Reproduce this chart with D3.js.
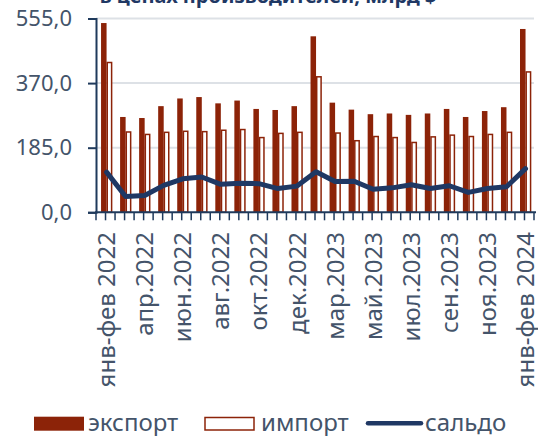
<!DOCTYPE html>
<html><head><meta charset="utf-8">
<script src="https://cdn.jsdelivr.net/npm/d3@7"></script>
<style>html,body{margin:0;padding:0;background:#fff;}svg{display:block;font-family:"Noto Sans",sans-serif;}</style>
</head><body>
<svg id="c" width="538" height="436"></svg>
<script>
const categories = ["янв-фев 2022","мар.2022","апр.2022","май.2022","июн.2022","июл.2022","авг.2022","сен.2022","окт.2022","ноя.2022","дек.2022",
  "янв-фев 2023","мар.2023","апр.2023","май.2023","июн.2023","июл.2023","авг.2023","сен.2023","окт.2023","ноя.2023","дек.2023","янв-фев 2024"];
const exportVals = [542,273,270,304,326,330,312,320,296,293,304,504,314,294,281,283,279,283,296,273,290,301,525];
const importVals = [429,230,223,229,232,231,235,237,214,226,229,388,227,205,217,214,200,216,221,217,223,229,402];
const saldoVals  = [115,45,48,77,96,101,80,83,82,68,75,116,88,89,66,70,79,68,76,57,68,73,125];
const yTicks = [0,185,370,555];
const labelIdx = [0,2,4,6,8,10,12,14,16,18,20,22];
const legendItems = ["экспорт","импорт","сальдо"];
const titleText = "в ценах производителей, млрд $";

const RED = "#8c2308", NAVY = "#1f3864", AXIS = "#1f3a5c", TXT = "#44546a", GRID = "#dde1e6";
const svg = d3.select("#c");
const x = d3.scaleBand().domain(categories).range([96, 534]).padding(0);
const y = d3.scaleLinear().domain([0,555]).range([212.3, 18.5]);
const bw = x.bandwidth();

svg.append("text").attr("x",268).attr("y",2.5).attr("text-anchor","middle")
  .attr("font-weight","bold").attr("font-size",20).attr("fill",NAVY).text(titleText);

// gridlines
svg.append("g").selectAll("line").data(yTicks.filter(d=>d>0)).join("line")
  .attr("x1",96).attr("x2",534).attr("y1",d=>y(d)).attr("y2",d=>y(d))
  .attr("stroke",GRID).attr("stroke-width",2);

// bars
svg.append("g").selectAll("rect").data(categories).join("rect")
  .attr("x",d=>x(d)+bw*0.265).attr("width",bw*0.29)
  .attr("y",(d,i)=>y(exportVals[i])).attr("height",(d,i)=>y(0)-y(exportVals[i]))
  .attr("fill",RED);
svg.append("g").selectAll("rect").data(categories).join("rect")
  .attr("x",d=>x(d)+bw*0.59).attr("width",bw*0.23)
  .attr("y",(d,i)=>y(importVals[i])).attr("height",(d,i)=>y(0)-y(importVals[i]))
  .attr("fill","#fff").attr("stroke",RED).attr("stroke-width",1.5);

// y axis
const yAxis = d3.axisLeft(y).tickValues(yTicks).tickSize(8).tickPadding(16)
  .tickFormat(d=>d3.format(".1f")(d).replace(".",","));
const gy = svg.append("g").attr("transform","translate(96,0)").call(yAxis);
gy.select(".domain").attr("stroke",AXIS).attr("stroke-width",2);
gy.selectAll(".tick line").attr("stroke",AXIS).attr("stroke-width",2);
gy.selectAll(".tick text").attr("fill",TXT).attr("font-size",22).attr("font-family","Noto Sans");

// x axis line and ticks
svg.append("line").attr("x1",95).attr("x2",536).attr("y1",y(0)).attr("y2",y(0))
  .attr("stroke",AXIS).attr("stroke-width",2);
const tickPos = [];
categories.forEach(c=>{tickPos.push(x(c)); tickPos.push(x(c)+bw/2);});
tickPos.push(x.range()[1]);
svg.append("g").selectAll("line").data(tickPos).join("line")
  .attr("x1",d=>d).attr("x2",d=>d).attr("y1",y(0)).attr("y2",y(0)+8)
  .attr("stroke",AXIS).attr("stroke-width",1.5);

// x labels
svg.append("g").selectAll("text").data(labelIdx).join("text")
  .attr("transform",i=>`translate(${x(categories[i])+bw*0.555+8.5},232) rotate(-90)`)
  .attr("text-anchor","end").attr("font-size",24).attr("fill",TXT).text(i=>categories[i]);

// saldo line
const line = d3.line().x((d,i)=>x(categories[i])+bw*0.555).y(d=>y(d));
svg.append("path").datum(saldoVals).attr("d",line).attr("fill","none")
  .attr("stroke",NAVY).attr("stroke-width",5).attr("stroke-linejoin","round").attr("stroke-linecap","round");

// legend
const lg = svg.append("g");
lg.append("rect").attr("x",34).attr("y",416.7).attr("width",50).attr("height",14).attr("fill",RED);
lg.append("text").attr("x",88).attr("y",431).attr("font-size",24).attr("fill",TXT).text(legendItems[0]);
lg.append("rect").attr("x",205).attr("y",417.5).attr("width",49).attr("height",12.5).attr("fill","#fff").attr("stroke",RED).attr("stroke-width",1.5);
lg.append("text").attr("x",261).attr("y",431).attr("font-size",24).attr("fill",TXT).text(legendItems[1]);
lg.append("line").attr("x1",368).attr("x2",421).attr("y1",423.3).attr("y2",423.3).attr("stroke",NAVY).attr("stroke-width",4.5).attr("stroke-linecap","round");
lg.append("text").attr("x",425).attr("y",431).attr("font-size",24).attr("fill",TXT).text(legendItems[2]);
</script>
</body></html>
